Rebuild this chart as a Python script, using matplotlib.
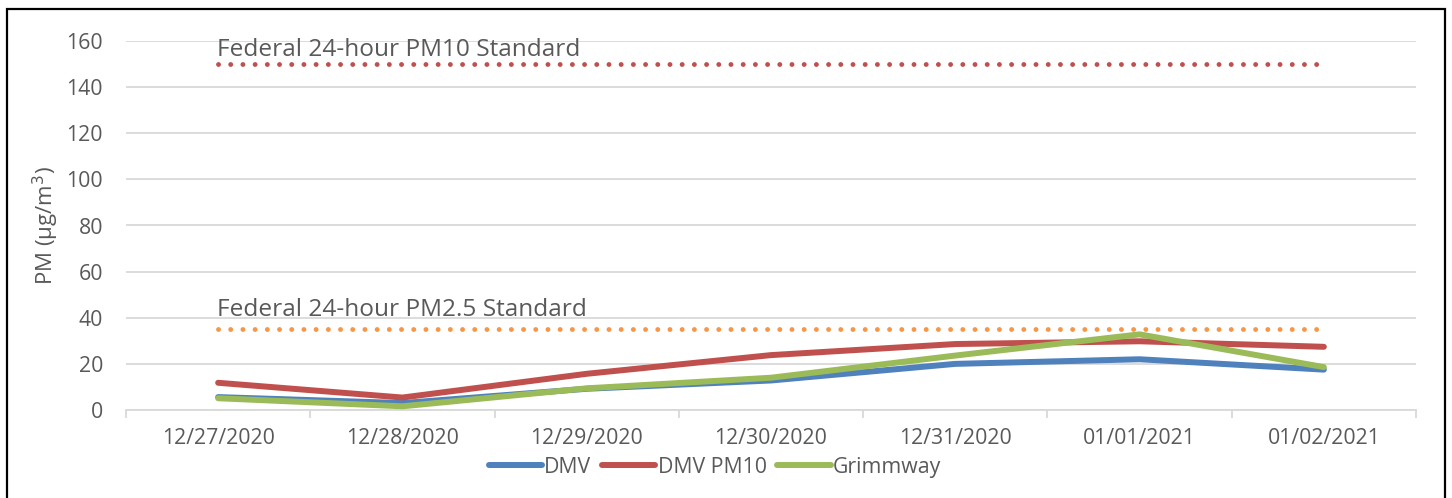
import matplotlib
matplotlib.use("Agg")
import matplotlib.pyplot as plt
from matplotlib.patches import Rectangle

categories = ["12/27/2020", "12/28/2020", "12/29/2020", "12/30/2020",
              "12/31/2020", "01/01/2021", "01/02/2021"]
dmv = [5.6, 3.0, 9.2, 12.8, 20.0, 22.0, 17.5]
dmv_pm10 = [11.8, 5.4, 15.7, 23.8, 28.6, 29.8, 27.4]
grimmway = [5.1, 1.6, 9.4, 14.0, 23.6, 32.8, 18.6]
pm10_standard = 150
pm25_standard = 35
pm10_label = "Federal 24-hour PM10 Standard"
pm25_label = "Federal 24-hour PM2.5 Standard"
yticks = [0, 20, 40, 60, 80, 100, 120, 140, 160]

BLUE = "#4F81BD"
RED = "#C0504D"
GREEN = "#9BBB59"
ORANGE = "#F79646"
TXT = "#595959"
GRID = "#D9D9D9"

plt.rcParams['font.family'] = ['Open Sans', 'DejaVu Sans']

W, H = 1452, 498
fig = plt.figure(figsize=(W / 100, H / 100), dpi=100)
ax = fig.add_axes([126 / W, 1 - 410 / H, (1416 - 126) / W, (410 - 41) / H])

x = list(range(len(categories)))
ax.plot(x, dmv, color=BLUE, lw=4.3, solid_capstyle='round', solid_joinstyle='round', label="DMV", zorder=3)
ax.plot(x, dmv_pm10, color=RED, lw=4.3, solid_capstyle='round', solid_joinstyle='round', label="DMV PM10", zorder=3)
ax.plot(x, grimmway, color=GREEN, lw=4.3, solid_capstyle='round', solid_joinstyle='round', label="Grimmway", zorder=4)

dot = (0, (0.01, 2.5))
ax.plot([x[0], x[-1]], [pm10_standard] * 2, color=RED, lw=3.5, linestyle=dot,
        dash_capstyle='round', zorder=2)
ax.plot([x[0], x[-1]], [pm25_standard] * 2, color=ORANGE, lw=3.5, linestyle=dot,
        dash_capstyle='round', zorder=2)

ax.text(x[0] - 0.005, pm10_standard + 3.4, pm10_label, color=TXT, fontsize=17.6, va='baseline', ha='left')
ax.text(x[0] - 0.005, pm25_standard + 5.8, pm25_label, color=TXT, fontsize=17.6, va='baseline', ha='left')

ax.set_xlim(-0.5, len(categories) - 0.5)
ax.set_ylim(0, 160)
ax.set_yticks(yticks)
ax.set_yticklabels([str(v) for v in yticks])
ax.tick_params(axis='y', length=0, pad=16.5, labelsize=15.3, labelcolor=TXT)
ax.yaxis.grid(True, color=GRID, lw=1.3)
ax.set_axisbelow(True)

ax.set_xticks([i - 0.5 for i in range(len(categories) + 1)])
ax.set_xticklabels([])
ax.set_xticks(x, minor=True)
ax.set_xticklabels(categories, minor=True)
ax.tick_params(axis='x', which='major', length=6, width=1.3, color=GRID, direction='out')
ax.tick_params(axis='x', which='minor', length=0, pad=13, labelsize=15.3, labelcolor=TXT)

for s in ['top', 'right', 'left']:
    ax.spines[s].set_visible(False)
ax.spines['bottom'].set_color(GRID)
ax.spines['bottom'].set_linewidth(1.3)

ax.set_ylabel("PM (µg/m$^3$)", color=TXT, fontsize=16, labelpad=4)

leg = fig.legend(loc='center', bbox_to_anchor=(715 / W, 1 - 467 / H), ncol=3, frameon=False,
                 fontsize=15.3, handlelength=2.5, handletextpad=0.12, columnspacing=0.5)
for t in leg.get_texts():
    t.set_color(TXT)

fig.patches.append(Rectangle((7 / W, -0.02), (1445 - 7) / W, 1 - 9 / H + 0.02,
                             transform=fig.transFigure, fill=False, edgecolor='black', lw=1.6))

fig.savefig("out.png", dpi=100)
